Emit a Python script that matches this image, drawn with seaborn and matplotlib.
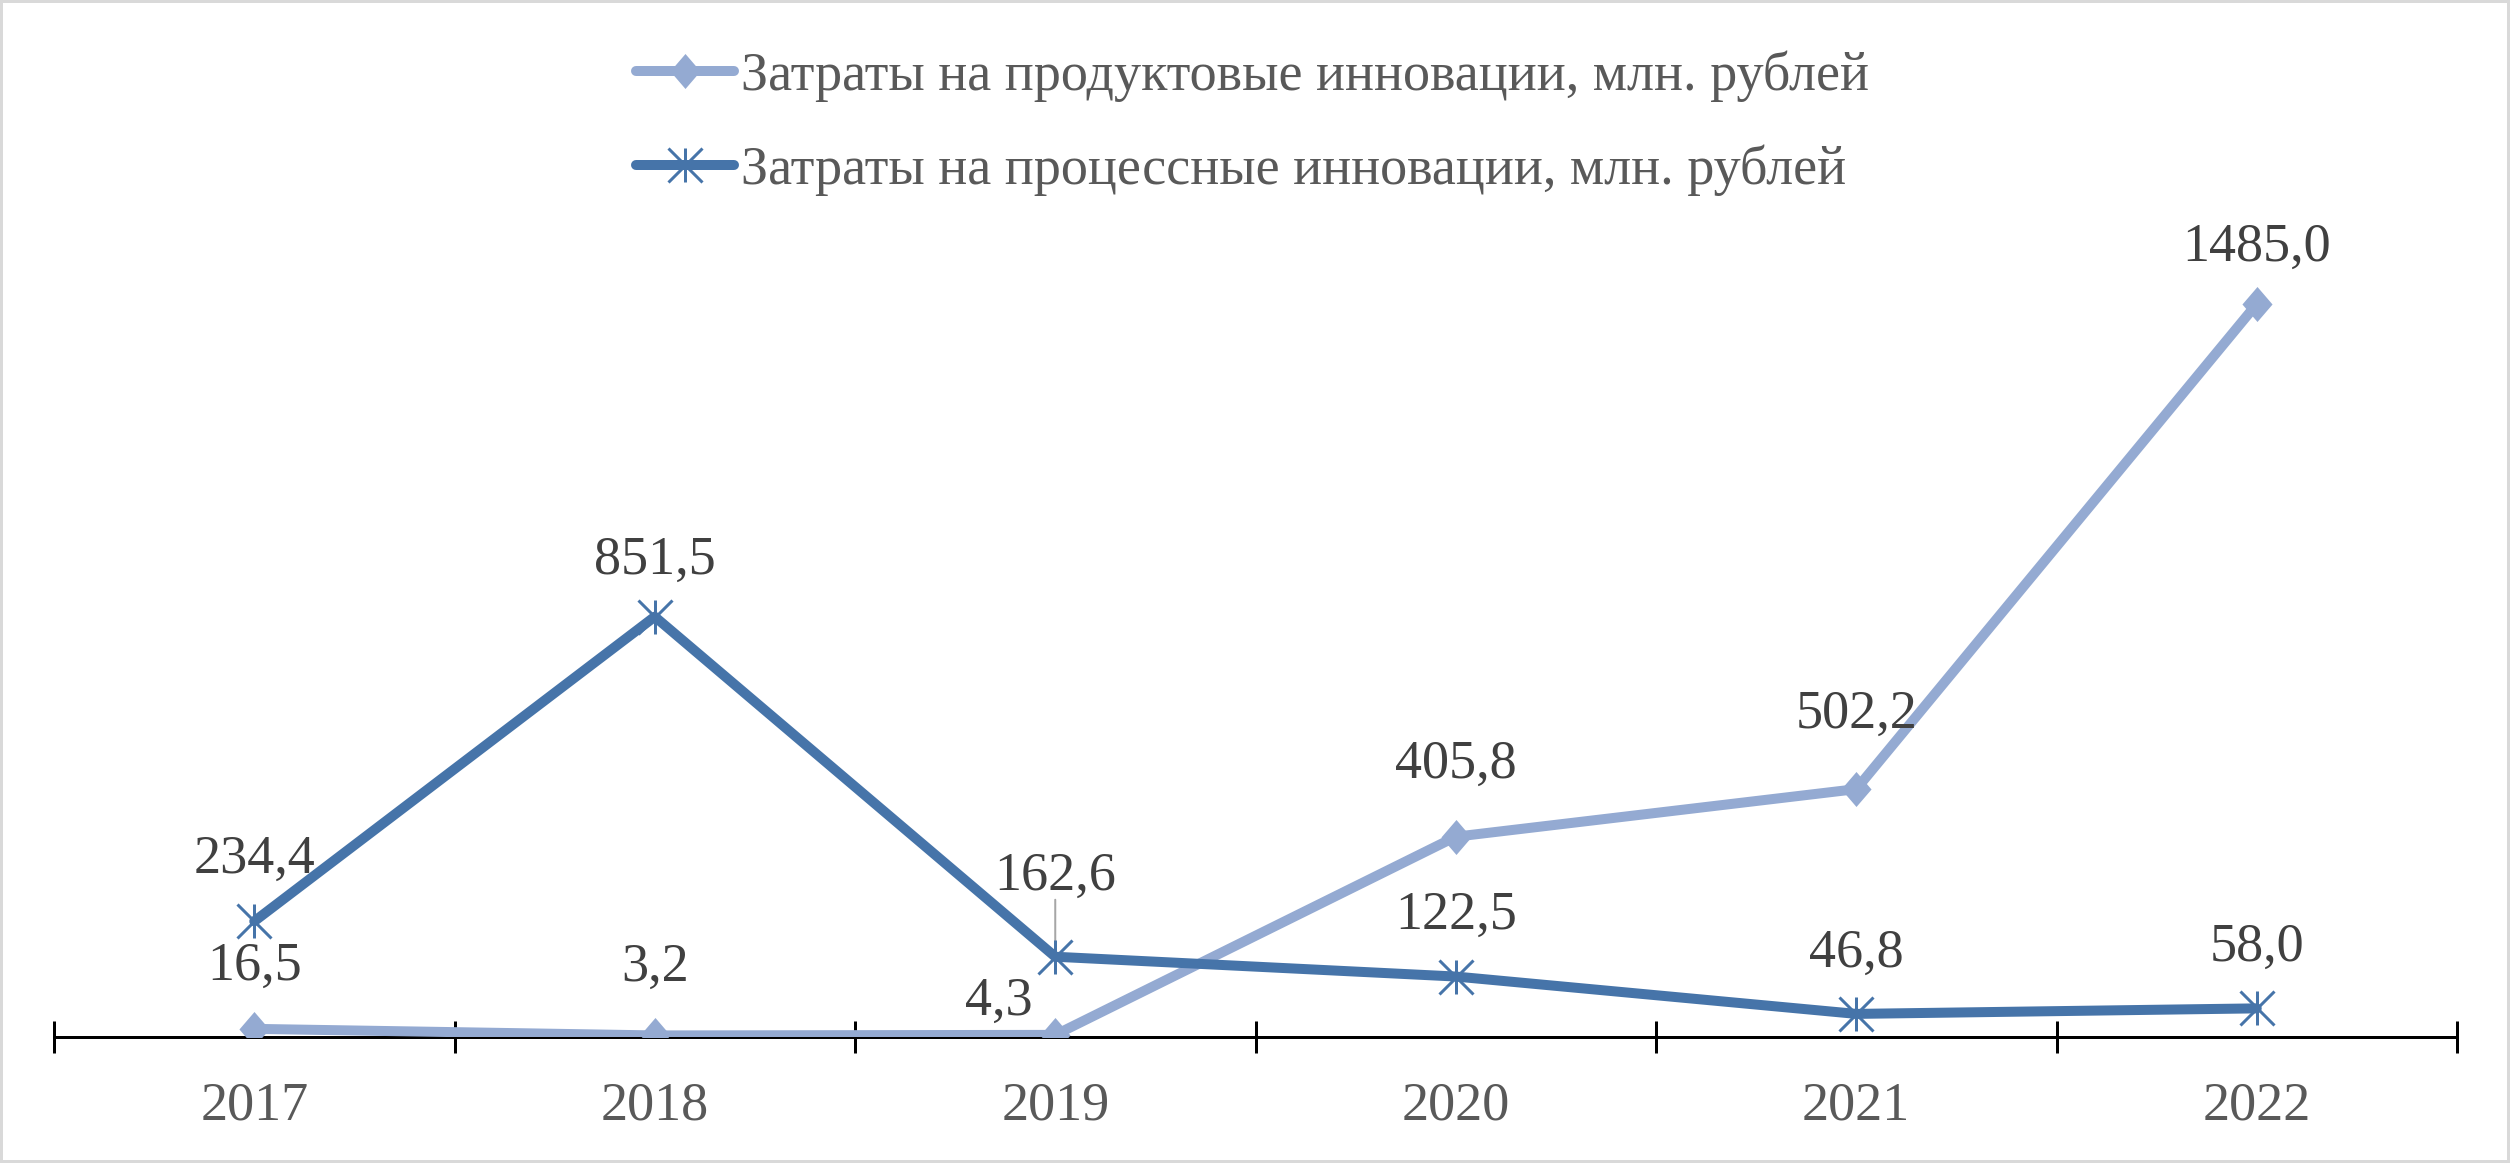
import numpy as np
import pandas as pd
import matplotlib
matplotlib.use("Agg")
import matplotlib.pyplot as plt
from matplotlib.path import Path
from matplotlib.patches import Rectangle
import seaborn as sns

# ---- data ----
years = ["2017", "2018", "2019", "2020", "2021", "2022"]
product_costs = [16.5, 3.2, 4.3, 405.8, 502.2, 1485.0]
process_costs = [234.4, 851.5, 162.6, 122.5, 46.8, 58.0]
product_label = "Затраты на продуктовые инновации, млн. рублей"
process_label = "Затраты на процессные инновации, млн. рублей"

# label offsets in pixels (dx, dy up)
product_offsets = [(0, 62), (0, 68), (-56, 33), (0, 72), (0, 75), (0, 56)]
process_offsets = [(0, 62), (0, 56), (0, 80), (0, 61), (0, 60), (0, 61)]

# ---- style ----
sns.set_theme(style="white")
plt.rcParams["font.family"] = ["Liberation Serif", "DejaVu Serif"]

DPI = 100
W, H = 2510, 1163
PX = 72.0 / DPI  # points per pixel

c_prod = "#94AAD2"
c_proc = "#4674A9"
c_lab = "#404040"
c_tick = "#595959"
FS = 39

diamond = Path([(0, 1), (0.86, 0), (0, -1), (-0.86, 0), (0, 1)],
               [Path.MOVETO, Path.LINETO, Path.LINETO, Path.LINETO, Path.CLOSEPOLY])
star = Path([(0, -1), (0, 1), (-1, -1), (1, 1), (-1, 1), (1, -1)],
            [Path.MOVETO, Path.LINETO, Path.MOVETO, Path.LINETO, Path.MOVETO, Path.LINETO])

fig = plt.figure(figsize=(W / DPI, H / DPI), dpi=DPI)
ax_left, ax_right = 54 / W, 2457 / W
ax_bottom = 1 - 1037 / H
ylim_top = 1700
ax_height = ylim_top * 0.4936 / H
ax = fig.add_axes([ax_left, ax_bottom, ax_right - ax_left, ax_height])

df = pd.DataFrame({"year": years, "product": product_costs, "process": process_costs})

sns.lineplot(data=df, x="year", y="product", ax=ax, color=c_prod,
             linewidth=10 * PX, marker=diamond, markersize=35 * PX,
             markerfacecolor=c_prod, markeredgecolor=c_prod, markeredgewidth=0,
             label=product_label, solid_capstyle="round", zorder=3)
sns.lineplot(data=df, x="year", y="process", ax=ax, color=c_proc,
             linewidth=10 * PX, marker=star, markersize=34 * PX,
             markerfacecolor="none", markeredgecolor=c_proc, markeredgewidth=3 * PX,
             label=process_label, solid_capstyle="round", zorder=4)

ax.set_xlim(-0.5, 5.5)
ax.set_ylim(0, ylim_top)
for s in ["top", "left", "right"]:
    ax.spines[s].set_visible(False)
ax.spines["bottom"].set_color("black")
ax.spines["bottom"].set_linewidth(3 * PX)
ax.set_yticks([])
ax.set_xlabel("")
ax.set_ylabel("")
ax.set_xticks(range(len(years)))
ax.set_xticklabels(years)
ax.set_xticks(np.arange(-0.5, len(years)), minor=True)
ax.tick_params(axis="x", which="major", length=0, pad=44 * PX, labelsize=FS, labelcolor=c_tick)
ax.tick_params(axis="x", which="minor", direction="inout", length=32 * PX,
               width=3 * PX, color="black", bottom=True)
ax.set_facecolor("white")

def fmt(v):
    return f"{v:.1f}".replace(".", ",")

for i, (v, off) in enumerate(zip(product_costs, product_offsets)):
    ax.annotate(fmt(v), (i, v), xytext=(off[0] * PX, off[1] * PX), textcoords="offset points",
                ha="center", va="center", fontsize=FS, color=c_lab, zorder=5)
for i, (v, off) in enumerate(zip(process_costs, process_offsets)):
    ax.annotate(fmt(v), (i, v), xytext=(off[0] * PX, off[1] * PX), textcoords="offset points",
                ha="center", va="center", fontsize=FS, color=c_lab, zorder=5)

# leader line for 2019 process label
i19 = years.index("2019")
ax.annotate("", (i19, process_costs[i19]), xytext=(0, 57 * PX), textcoords="offset points",
            arrowprops=dict(arrowstyle="-", color="#A6A6A6", lw=2 * PX, shrinkA=0, shrinkB=0),
            zorder=2)

handles, labels = ax.get_legend_handles_labels()
ax.legend(handles, labels, loc="upper left", bbox_to_anchor=(636 / W, 1 - 50 / H),
          bbox_transform=fig.transFigure, frameon=False, fontsize=FS,
          labelcolor=c_tick, handlelength=1.8, handletextpad=0.13,
          labelspacing=0.8, borderpad=0, borderaxespad=0)

fig.add_artist(Rectangle((0, 0), 1, 1, transform=fig.transFigure, fill=False,
                         edgecolor="#D9D9D9", linewidth=6 * PX))

fig.savefig("out.png", dpi=DPI, facecolor="white")
